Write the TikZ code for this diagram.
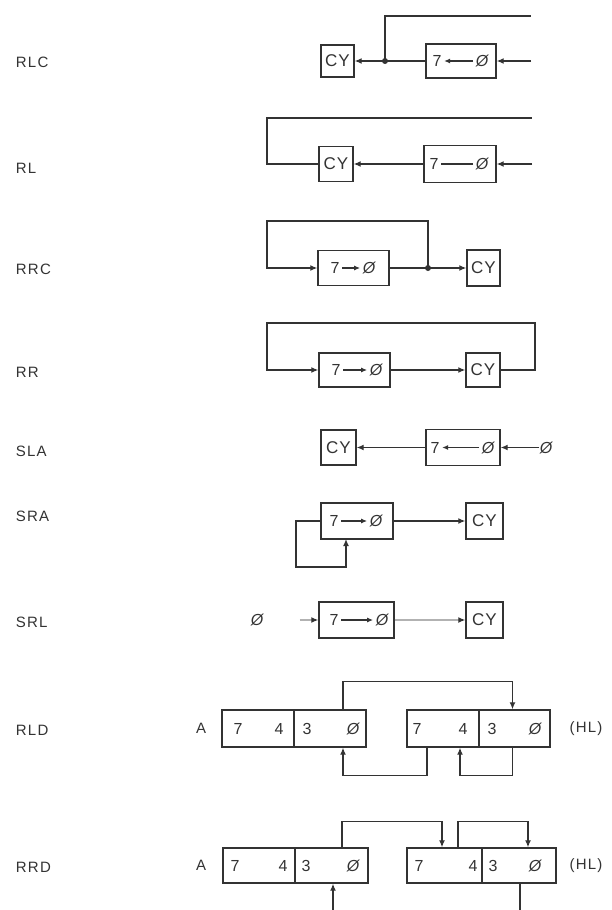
\documentclass[tikz,border=0pt]{standalone}
\usepackage{fontspec}
\setmainfont{Liberation Sans}
\usetikzlibrary{arrows.meta,calc}
\begin{document}
\begin{tikzpicture}[x=1pt,y=-1pt,
  color=black!80, line width=1.3pt,
  lab/.style={font=\fontsize{15}{17}\selectfont\addfontfeature{LetterSpace=8}},
  reg/.style={draw, line width=1.4pt, inner sep=0pt, font=\fontsize{17}{19}\selectfont\addfontfeature{LetterSpace=6}},
  dig/.style={inner sep=0pt, font=\fontsize{16}{18}\selectfont},
  zdig/.style={inner sep=0pt, font=\fontsize{16}{18}\selectfont\itshape},
  arr/.style={-{Latex[length=7pt,width=6pt,color=black!80]}},
  iarr/.style={-{Latex[length=6pt,width=5pt]}, shorten <=2pt, shorten >=2pt},
  jdot/.style={circle, fill=black!80, inner sep=0pt, minimum size=6pt},
  faint/.style={draw=black!30},
]
\fill[white] (0,0) rectangle (611,910);
\useasboundingbox (0,0) rectangle (611,910);

% ---------- labels ----------
\node[lab, anchor=west] (L1) at (12,62) {RLC};
\node[lab, anchor=west] (L2) at (12,168) {RL};
\node[lab, anchor=west] (L3) at (12,269) {RRC};
\node[lab, anchor=west] (L4) at (12,372) {RR};
\node[lab, anchor=west] (L5) at (12,451) {SLA};
\node[lab, anchor=west] (L6) at (12,516) {SRA};
\node[lab, anchor=west] (L7) at (12,622) {SRL};
\node[lab, anchor=west] (L8) at (12,730) {RLD};
\node[lab, anchor=west] (L9) at (12,867) {RRD};

% ---------- RLC ----------
\node[reg, minimum width=33pt, minimum height=32pt] (cy1) at (337.5,61) {CY};
\node[reg, minimum width=70pt, minimum height=34pt] (r1) at (461,61) {};
\node[dig] (r1a) at (437,61) {7};
\node[zdig] (r1b) at (482,61) {Ø};
\draw[iarr] (r1b) -- (r1a);
\node[jdot] (j1) at (385,61) {};
\coordinate (t1) at (531,16);
\coordinate (e1) at (531,61);
\draw[arr] (r1.west) -- (cy1.east);
\draw (j1.center) |- (t1);
\draw[arr] (e1) -- (r1.east);

% ---------- RL ----------
\node[reg, minimum width=34pt, minimum height=35pt] (cy2) at (336,164) {CY};
\node[reg, minimum width=72pt, minimum height=37pt] (r2) at (460,164) {};
\node[dig] (r2a) at (434,164) {7};
\node[zdig] (r2b) at (482,164) {Ø};
\draw[shorten <=2pt, shorten >=2pt] (r2b) -- (r2a);
\coordinate (l2) at (267,164);
\coordinate (t2) at (532,118);
\coordinate (e2) at (532,164);
\draw[arr] (r2.west) -- (cy2.east);
\draw (cy2.west) -- (l2) |- (t2);
\draw[arr] (e2) -- (r2.east);

% ---------- RRC ----------
\node[reg, minimum width=71pt, minimum height=35pt] (r3) at (353.5,268) {};
\node[dig] (r3a) at (335,268) {7};
\node[zdig] (r3b) at (369,268) {Ø};
\draw[iarr] (r3a) -- (r3b);
\node[reg, minimum width=33pt, minimum height=36pt] (cy3) at (483.5,268) {CY};
\node[jdot] (j3) at (428,268) {};
\coordinate (l3) at (267,221);
\draw (r3.east) -- (j3.center);
\draw[arr] (j3.center) -- (cy3.west);
\draw[arr] (j3.center) |- (l3) |- (r3.west);

% ---------- RR ----------
\node[reg, minimum width=71pt, minimum height=34pt] (r4) at (354.5,370) {};
\node[dig] (r4a) at (336,370) {7};
\node[zdig] (r4b) at (376,370) {Ø};
\draw[iarr] (r4a) -- (r4b);
\node[reg, minimum width=34pt, minimum height=34pt] (cy4) at (483,370) {CY};
\coordinate (rt4) at (535,323);
\coordinate (l4) at (267,323);
\draw[arr] (r4.east) -- (cy4.west);
\draw[arr] (cy4.east) -| (rt4) -- (l4) |- (r4.west);

% ---------- SLA ----------
\node[reg, minimum width=35pt, minimum height=35pt] (cy5) at (338.5,447.5) {CY};
\node[reg, minimum width=74pt, minimum height=36pt] (r5) at (463,447.5) {};
\node[dig] (r5a) at (435,447.5) {7};
\node[zdig] (r5b) at (488,447.5) {Ø};
\draw[iarr] (r5b) -- (r5a);
\node[zdig] (z5) at (546,447.5) {Ø};
\draw[arr] (r5.west) -- (cy5.east);
\draw[arr] (z5.west) -- (r5.east);

% ---------- SRA ----------
\node[reg, minimum width=72pt, minimum height=36pt] (r6) at (357,521) {};
\node[dig] (r6a) at (334,521) {7};
\node[zdig] (r6b) at (376,521) {Ø};
\draw[iarr] (r6a) -- (r6b);
\node[reg, minimum width=37pt, minimum height=36pt] (cy6) at (484.5,521) {CY};
\coordinate (f6) at (296,567);
\coordinate (b6) at (346,539);
\draw[arr] (r6.east) -- (cy6.west);
\draw[arr] (r6.west) -| (f6) -| (b6);

% ---------- SRL ----------
\node[zdig] (z7) at (257,620) {Ø};
\node[reg, minimum width=75pt, minimum height=36pt] (r7) at (356.5,620) {};
\node[dig] (r7a) at (334,620) {7};
\node[zdig] (r7b) at (382,620) {Ø};
\draw[iarr] (r7a) -- (r7b);
\node[reg, minimum width=37pt, minimum height=36pt] (cy7) at (484.5,620) {CY};
\draw[arr, faint] (z7.east) ++(36,0) -- (r7.west);
\draw[arr, faint] (r7.east) -- (cy7.west);

% ---------- RLD ----------
\node[lab] (A8) at (201,728.5) {A};
\node[reg, minimum width=72pt, minimum height=37pt] (l8a) at (258,728.5) {};
\node[reg, minimum width=72pt, minimum height=37pt] (l8b) at (330,728.5) {};
\node[reg, minimum width=72pt, minimum height=37pt] (r8a) at (443,728.5) {};
\node[reg, minimum width=71pt, minimum height=37pt] (r8b) at (514.5,728.5) {};
\node[dig] at (238,728.5) {7};
\node[dig] at (279,728.5) {4};
\node[dig] at (307,728.5) {3};
\node[zdig] at (353,728.5) {Ø};
\node[dig] at (417,728.5) {7};
\node[dig] at (463,728.5) {4};
\node[dig] at (492,728.5) {3};
\node[zdig] at (535,728.5) {Ø};
\node[lab] (HL8) at (586,728.5) {(HL)};
\draw[arr] ([xshift=13pt]l8b.north) -- ++(0,-28) -| ([xshift=-2pt]r8b.north);
\draw[arr] ([xshift=-16pt]r8a.south) -- ++(0,28) -| ([xshift=13pt]l8b.south);
\draw[arr] ([xshift=-2pt]r8b.south) -- ++(0,28) -| ([xshift=17pt]r8a.south);

% ---------- RRD ----------
\node[lab] (A9) at (201,865.5) {A};
\node[reg, minimum width=72pt, minimum height=35pt] (l9a) at (259,865.5) {};
\node[reg, minimum width=73pt, minimum height=35pt] (l9b) at (331.5,865.5) {};
\node[reg, minimum width=75pt, minimum height=35pt] (r9a) at (444.5,865.5) {};
\node[reg, minimum width=74pt, minimum height=35pt] (r9b) at (519,865.5) {};
\node[dig] at (235,865.5) {7};
\node[dig] at (283,865.5) {4};
\node[dig] at (306,865.5) {3};
\node[zdig] at (353,865.5) {Ø};
\node[dig] at (419,865.5) {7};
\node[dig] at (473,865.5) {4};
\node[dig] at (493,865.5) {3};
\node[zdig] at (535,865.5) {Ø};
\node[lab] (HL9) at (586,865.5) {(HL)};
\draw[arr] ([xshift=10.5pt]l9b.north) -- ++(0,-26) -| ([xshift=-2.5pt]r9a.north);
\draw[arr] ([xshift=13.5pt]r9a.north) -- ++(0,-26) -| ([xshift=9pt]r9b.north);
\coordinate (q9) at (333,910);
\draw ([xshift=1pt]r9b.south) -- ++(0,27);
\draw[arr] (q9) -- ([xshift=1.5pt]l9b.south);
\end{tikzpicture}
\end{document}
